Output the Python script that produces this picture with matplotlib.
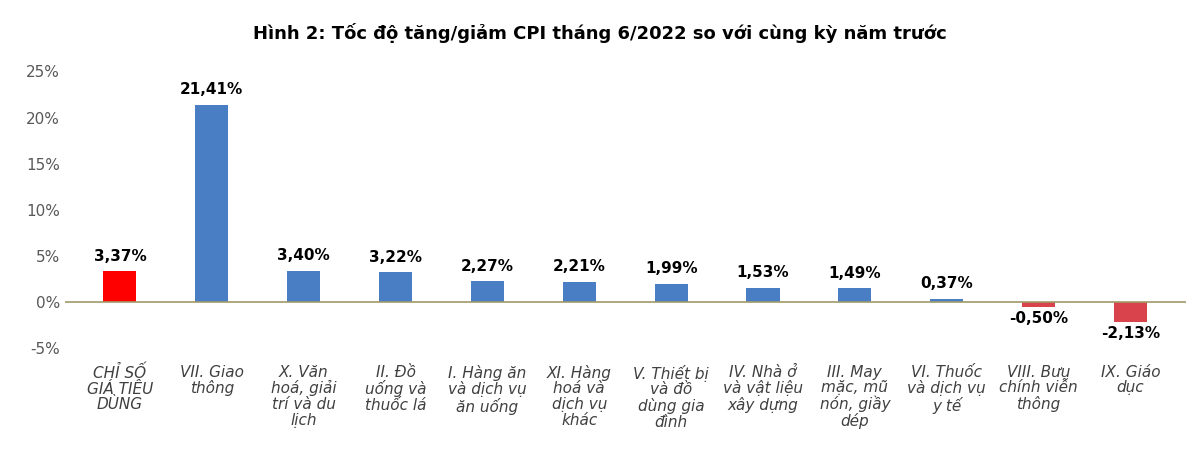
import matplotlib
matplotlib.use("Agg")
import matplotlib.pyplot as plt
import numpy as np

categories = [
    "CHỈ SỐ\nGIÁ TIÊU\nDÙNG",
    "VII. Giao\nthông",
    "X. Văn\nhoá, giải\ntrí và du\nlịch",
    "II. Đồ\nuống và\nthuốc lá",
    "I. Hàng ăn\nvà dịch vụ\năn uống",
    "XI. Hàng\nhoá và\ndịch vụ\nkhác",
    "V. Thiết bị\nvà đồ\ndùng gia\nđình",
    "IV. Nhà ở\nvà vật liệu\nxây dựng",
    "III. May\nmặc, mũ\nnón, giầy\ndép",
    "VI. Thuốc\nvà dịch vụ\ny tế",
    "VIII. Bưu\nchính viễn\nthông",
    "IX. Giáo\ndục",
]
values = [3.37, 21.41, 3.40, 3.22, 2.27, 2.21, 1.99, 1.53, 1.49, 0.37, -0.50, -2.13]
yticks = [-5, 0, 5, 10, 15, 20, 25]

colors = []
for i, v in enumerate(values):
    if i == 0:
        colors.append("#FF0000")
    elif v < 0:
        colors.append("#D9444C")
    else:
        colors.append("#4A7EC4")

fig = plt.figure(figsize=(12, 4.61), dpi=100)
ax = fig.add_axes([0.054, 0.245, 0.934, 0.6])
x = np.arange(len(values))
ax.bar(x, values, width=0.36, color=colors, zorder=2)
ax.axhline(0, color="#A09A6A", lw=1.2, zorder=3)

for xi, v in zip(x, values):
    lab = f"{v:.2f}%".replace(".", ",")
    if v >= 0:
        ax.text(xi, v + 0.8, lab, ha="center", va="bottom", fontsize=11, fontweight="bold")
    else:
        ax.text(xi, v - 0.5, lab, ha="center", va="top", fontsize=11, fontweight="bold")

ax.set_ylim(-5, 25)
ax.set_xlim(-0.6, len(values) - 0.4)
ax.set_yticks(yticks)
ax.set_yticklabels([f"{t}%" for t in yticks], fontsize=11, color="#595959")
ax.set_xticks(x)
ax.set_xticklabels(categories, fontsize=11, style="italic", color="#404040", linespacing=1.05)
ax.tick_params(axis="both", length=0)
ax.tick_params(axis="x", pad=12)
for s in ax.spines.values():
    s.set_visible(False)

fig.suptitle("Hình 2: Tốc độ tăng/giảm CPI tháng 6/2022 so với cùng kỳ năm trước",
             fontsize=13, fontweight="bold", y=0.95)
fig.savefig("out.png", dpi=100)
